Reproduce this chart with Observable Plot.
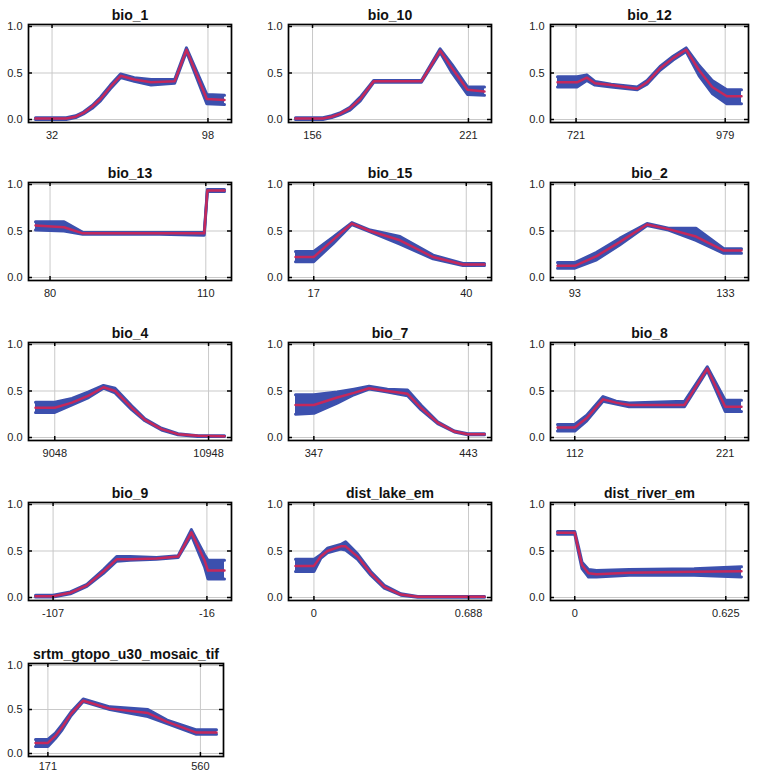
<!DOCTYPE html>
<html><head><meta charset="utf-8">
<script src="https://cdn.jsdelivr.net/npm/d3@7"></script>
<script src="https://cdn.jsdelivr.net/npm/@observablehq/plot@0.6"></script>
<style>
html,body{margin:0;padding:0;background:#fff;overflow:hidden;width:760px;height:779px}
#wrap{position:relative;width:760px;height:779px}
.panel{position:absolute}
</style></head><body><div id="wrap"></div>
<script>
// ---- data ----
const titles = ["bio_1","bio_10","bio_12","bio_13","bio_15","bio_2","bio_4","bio_7","bio_8","bio_9","dist_lake_em","dist_river_em","srtm_gtopo_u30_mosaic_tif"];
const yTicks = [0, 0.5, 1];

const bio1_ticks = [32, 98];
const bio1_x    = [25, 38, 42, 45.3, 49, 52.5, 56.7, 61, 66.8, 73.9, 83.9, 88.9, 97.5, 105];
const bio1_mean = [0.01,0.01,0.03,0.07,0.14,0.22,0.35,0.47,0.43,0.40,0.41,0.75,0.22,0.21];
const bio1_lo   = [0.0,0.0,0.02,0.06,0.12,0.20,0.33,0.45,0.41,0.37,0.39,0.73,0.17,0.16];
const bio1_hi   = [0.02,0.02,0.04,0.08,0.15,0.24,0.37,0.49,0.45,0.43,0.43,0.77,0.27,0.26];

const bio10_ticks = [156, 221];
const bio10_x    = [148.9, 160.3, 164, 167.4, 171.6, 175.9, 181.5, 201.4, 209.2, 214.2, 220.6, 227.7];
const bio10_mean = [0.01,0.01,0.03,0.06,0.12,0.22,0.41,0.41,0.74,0.55,0.32,0.30];
const bio10_lo   = [0.0,0.0,0.02,0.05,0.10,0.20,0.40,0.40,0.72,0.50,0.27,0.26];
const bio10_hi   = [0.02,0.02,0.04,0.07,0.13,0.24,0.42,0.42,0.76,0.59,0.35,0.35];

const bio12_ticks = [721, 979];
const bio12_x    = [688.9, 722.7, 739.6, 753.7, 781.8, 826.9, 843.8, 866.3, 888.9, 911.4, 933.9, 956.5, 981.8, 1007.2];
const bio12_mean = [0.40, 0.40, 0.45, 0.39, 0.37, 0.33, 0.40, 0.55, 0.66, 0.75, 0.53, 0.35, 0.25, 0.25];
const bio12_lo   = [0.35, 0.35, 0.42, 0.37, 0.35, 0.32, 0.38, 0.53, 0.64, 0.73, 0.47, 0.28, 0.17, 0.17];
const bio12_hi   = [0.46, 0.46, 0.48, 0.41, 0.38, 0.35, 0.42, 0.57, 0.68, 0.77, 0.58, 0.42, 0.32, 0.32];

const bio13_ticks = [80, 110];
const bio13_x    = [77.2, 82.7, 86.3, 101, 109.7, 110.3, 113.6];
const bio13_mean = [0.56, 0.54, 0.475, 0.475, 0.475, 0.935, 0.935];
const bio13_lo   = [0.51, 0.50, 0.465, 0.465, 0.455, 0.925, 0.925];
const bio13_hi   = [0.60, 0.60, 0.485, 0.485, 0.485, 0.945, 0.945];

const bio15_ticks = [17, 40];
const bio15_x    = [14.25, 17, 20, 22.75, 25.5, 30, 35, 39.5, 42.75];
const bio15_mean = [0.22, 0.22, 0.41, 0.58, 0.50, 0.40, 0.22, 0.14, 0.14];
const bio15_lo   = [0.17, 0.17, 0.37, 0.57, 0.49, 0.36, 0.20, 0.13, 0.13];
const bio15_hi   = [0.28, 0.28, 0.44, 0.59, 0.51, 0.44, 0.24, 0.15, 0.15];

const bio2_ticks = [93, 133];
const bio2_x    = [88.4, 93, 98.8, 104.9, 112.2, 117.9, 125.2, 132.6, 137.3];
const bio2_mean = [0.126, 0.126, 0.23, 0.38, 0.57, 0.52, 0.44, 0.29, 0.29];
const bio2_lo   = [0.10, 0.10, 0.19, 0.35, 0.56, 0.51, 0.40, 0.26, 0.26];
const bio2_hi   = [0.16, 0.16, 0.27, 0.42, 0.58, 0.53, 0.53, 0.31, 0.31];

const bio4_ticks = [9048, 10948];
const bio4_x    = [8810, 9048, 9261, 9466, 9650, 9793, 9998, 10162, 10367, 10571, 10817, 11145];
const bio4_mean = [0.32, 0.32, 0.375, 0.45, 0.54, 0.50, 0.32, 0.19, 0.09, 0.036, 0.018, 0.014];
const bio4_lo   = [0.27, 0.27, 0.35, 0.43, 0.53, 0.48, 0.30, 0.18, 0.08, 0.03, 0.012, 0.01];
const bio4_hi   = [0.38, 0.38, 0.42, 0.49, 0.56, 0.53, 0.34, 0.20, 0.10, 0.04, 0.02, 0.018];

const bio7_ticks = [347, 443];
const bio7_x    = [335.6, 347, 361.5, 371.9, 381.3, 392.7, 405.2, 413.5, 423.9, 434.3, 442.6, 453];
const bio7_mean = [0.35, 0.35, 0.43, 0.48, 0.53, 0.50, 0.47, 0.32, 0.16, 0.064, 0.036, 0.036];
const bio7_lo   = [0.25, 0.26, 0.37, 0.46, 0.52, 0.49, 0.45, 0.30, 0.15, 0.06, 0.03, 0.03];
const bio7_hi   = [0.46, 0.46, 0.49, 0.52, 0.55, 0.52, 0.51, 0.35, 0.17, 0.07, 0.04, 0.04];

const bio8_ticks = [112, 221];
const bio8_x    = [99.5, 112, 120.7, 132.5, 141.9, 151.4, 191.5, 208, 221, 232.8];
const bio8_mean = [0.107, 0.107, 0.21, 0.41, 0.375, 0.35, 0.35, 0.74, 0.33, 0.33];
const bio8_lo   = [0.07, 0.07, 0.18, 0.39, 0.36, 0.33, 0.33, 0.72, 0.28, 0.28];
const bio8_hi   = [0.14, 0.14, 0.24, 0.44, 0.39, 0.37, 0.39, 0.76, 0.40, 0.40];

const bio9_ticks = [-107, -16];
const bio9_x    = [-117.4, -107, -96.8, -87, -77.2, -69.4, -61.5, -45.8, -33, -25.2, -17.4, -15.4, -5.6];
const bio9_mean = [0.014, 0.014, 0.05, 0.13, 0.28, 0.41, 0.41, 0.42, 0.44, 0.70, 0.40, 0.29, 0.29];
const bio9_lo   = [0.005, 0.005, 0.04, 0.12, 0.26, 0.39, 0.40, 0.41, 0.43, 0.67, 0.33, 0.20, 0.20];
const bio9_hi   = [0.025, 0.025, 0.06, 0.14, 0.30, 0.44, 0.44, 0.43, 0.45, 0.73, 0.46, 0.40, 0.40];

const lake_ticks = [0, 0.688];
const lake_x    = [-0.082, 0, 0.03, 0.06, 0.119, 0.141, 0.194, 0.253, 0.313, 0.387, 0.462, 0.759];
const lake_mean = [0.34, 0.34, 0.44, 0.50, 0.55, 0.55, 0.44, 0.26, 0.115, 0.032, 0.007, 0.007];
const lake_lo   = [0.28, 0.28, 0.42, 0.48, 0.52, 0.51, 0.41, 0.24, 0.10, 0.025, 0.003, 0.003];
const lake_hi   = [0.41, 0.41, 0.46, 0.53, 0.57, 0.60, 0.47, 0.28, 0.13, 0.04, 0.012, 0.012];

const river_ticks = [0, 0.625];
const river_x    = [-0.0714, 0, 0.016, 0.030, 0.057, 0.09, 0.225, 0.494, 0.69];
const river_mean = [0.695, 0.695, 0.51, 0.35, 0.26, 0.25, 0.265, 0.276, 0.283];
const river_lo   = [0.68, 0.68, 0.48, 0.31, 0.22, 0.22, 0.24, 0.24, 0.22];
const river_hi   = [0.71, 0.71, 0.54, 0.38, 0.30, 0.29, 0.30, 0.31, 0.33];

const srtm_ticks = [171, 560];
const srtm_x    = [139.4, 171, 190, 207.5, 230, 261, 329, 426, 475, 548, 601];
const srtm_mean = [0.12, 0.12, 0.2, 0.3, 0.45, 0.60, 0.51, 0.46, 0.36, 0.24, 0.24];
const srtm_lo   = [0.08, 0.08, 0.17, 0.27, 0.43, 0.59, 0.50, 0.42, 0.34, 0.22, 0.22];
const srtm_hi   = [0.16, 0.16, 0.23, 0.33, 0.47, 0.62, 0.53, 0.50, 0.38, 0.27, 0.27];

const series = [
  [bio1_x, bio1_mean, bio1_lo, bio1_hi, bio1_ticks],
  [bio10_x, bio10_mean, bio10_lo, bio10_hi, bio10_ticks],
  [bio12_x, bio12_mean, bio12_lo, bio12_hi, bio12_ticks],
  [bio13_x, bio13_mean, bio13_lo, bio13_hi, bio13_ticks],
  [bio15_x, bio15_mean, bio15_lo, bio15_hi, bio15_ticks],
  [bio2_x, bio2_mean, bio2_lo, bio2_hi, bio2_ticks],
  [bio4_x, bio4_mean, bio4_lo, bio4_hi, bio4_ticks],
  [bio7_x, bio7_mean, bio7_lo, bio7_hi, bio7_ticks],
  [bio8_x, bio8_mean, bio8_lo, bio8_hi, bio8_ticks],
  [bio9_x, bio9_mean, bio9_lo, bio9_hi, bio9_ticks],
  [lake_x, lake_mean, lake_lo, lake_hi, lake_ticks],
  [river_x, river_mean, river_lo, river_hi, river_ticks],
  [srtm_x, srtm_mean, srtm_lo, srtm_hi, srtm_ticks]
];

// ---- layout ----
const BLUE = "#3c50ae", RED = "#c4285c", GRID = "#c9c9c9";
const colLeft = [0, 260, 522], rowTop = [0, 158, 318, 478, 639];
const colFrameW = [203, 203, 198], colMR = [24, 24, 12];
const wrap = document.getElementById("wrap");

series.forEach(([xs, mean, lo, hi, ticks], i) => {
  const c = i % 3, r = Math.floor(i / 3);
  const last = r === 4;
  const mL = 28, mT = 24, fh = last ? 93 : 98;
  const fw = last ? 195 : colFrameW[c], mR = last ? 30 : colMR[c];
  const H = last ? 140 : 160;
  const W = mL + fw + mR;
  const rows = xs.map((x, j) => ({x, m: mean[j], lo: lo[j], hi: hi[j]}));
  const chart = Plot.plot({
    width: W, height: H,
    marginLeft: mL, marginRight: mR, marginTop: mT, marginBottom: H - mT - fh,
    style: {fontFamily: "'Liberation Sans', Arial, sans-serif", fontSize: "11px", color: "#222", background: "white", overflow: "visible"},
    x: {domain: d3.extent(xs), inset: 7},
    y: {domain: [0, 1], insetTop: 2, insetBottom: 3},
    marks: [
      Plot.gridX(ticks, {stroke: GRID, strokeOpacity: 1, strokeWidth: 1}),
      Plot.gridY(yTicks, {stroke: GRID, strokeOpacity: 1, strokeWidth: 1}),
      Plot.areaY(rows, {x: "x", y1: "lo", y2: "hi", fill: BLUE}),
      Plot.line(rows, {x: "x", y: "lo", stroke: BLUE, strokeWidth: 3}),
      Plot.line(rows, {x: "x", y: "hi", stroke: BLUE, strokeWidth: 3}),
      Plot.line(rows, {x: "x", y: "m", stroke: RED, strokeWidth: 2.5}),
      Plot.ruleX(ticks, {insetTop: fh - 4, stroke: "#000", strokeWidth: 1.5}),
      Plot.ruleX(ticks, {insetBottom: fh - 4, stroke: "#000", strokeWidth: 1.5}),
      Plot.ruleY(yTicks, {insetRight: fw - 4, stroke: "#000", strokeWidth: 1.5}),
      Plot.ruleY(yTicks, {insetLeft: fw - 4, stroke: "#000", strokeWidth: 1.5}),
      Plot.frame({stroke: "#000", strokeWidth: 1.7}),
      Plot.axisX(ticks, {tickSize: 0, tickPadding: last ? 6 : 9, label: null, tickFormat: d => String(d)}),
      Plot.axisY(yTicks, {tickSize: 0, tickPadding: 6, label: null, tickFormat: d3.format(".1f")}),
      Plot.text([titles[i]], {frameAnchor: "top", dy: -14, fontWeight: "bold", fontSize: 14, fill: "#111"})
    ]
  });
  const div = document.createElement("div");
  div.className = "panel";
  div.style.left = colLeft[c] + "px";
  div.style.top = rowTop[r] + "px";
  div.appendChild(chart);
  wrap.appendChild(div);
});
</script>
</body></html>
